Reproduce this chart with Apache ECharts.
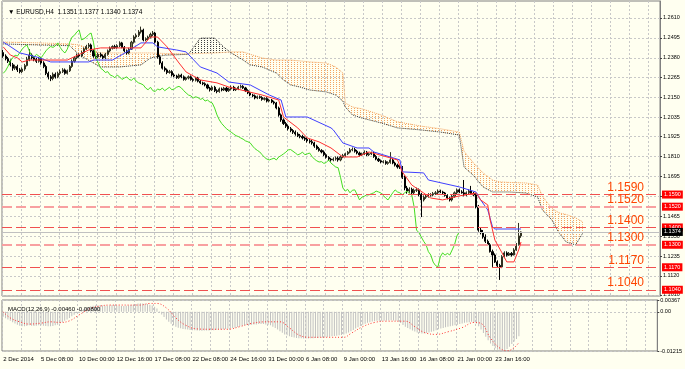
<!DOCTYPE html>
<html><head><meta charset="utf-8">
<script src="https://cdn.jsdelivr.net/npm/echarts@6/dist/echarts.min.js"></script>
<style>html,body{margin:0;padding:0;background:#fffff0}#c{width:685px;height:369px}</style>
</head><body><div id="c"></div>
<script>
// ---------- text ----------
const chartTitle = '\u25BC EURUSD,H4  1.1351 1.1377 1.1340 1.1374';
const macdTitle = 'MACD(12,26,9) -0.00460 -0.00800';
const timeLabels = ['2 Dec 2014','5 Dec 08:00','10 Dec 00:00','12 Dec 16:00','17 Dec 08:00','22 Dec 08:00','24 Dec 16:00','31 Dec 00:00','6 Jan 08:00','9 Jan 00:00','13 Jan 16:00','16 Jan 08:00','21 Jan 00:00','23 Jan 16:00'];
const priceTicks = [1.2610,1.2495,1.2380,1.2265,1.2150,1.2035,1.1925,1.1810,1.1695,1.1580,1.1465,1.1350,1.1235,1.1120,1.1010];
const priceLabelTicks = [1.2610,1.2495,1.2380,1.2265,1.2150,1.2035,1.1925,1.1810,1.1695,1.1465,1.1350,1.1235,1.1120,1.1010];
const levels = [1.1590,1.1520,1.1400,1.1300,1.1170,1.1040];
const lastPrice = 1.1374;
const macdTicks = [0.00367, 0, -0.01215];
const macdTickLabels = ['0.00367','0.00','-0.01215'];

// ---------- candles (H4) ----------
const opens = [
1.2410,1.2390,1.2375,1.2360,1.2340,1.2320,1.2330,1.2310,1.2300,1.2315,1.2335,1.2370,
1.2395,1.2380,1.2370,1.2360,1.2375,1.2350,1.2330,1.2290,1.2270,1.2260,1.2285,1.2270,
1.2290,1.2300,1.2310,1.2290,1.2305,1.2330,1.2360,1.2380,1.2395,1.2390,1.2410,1.2430,
1.2445,1.2454,1.2420,1.2390,1.2385,1.2400,1.2390,1.2380,1.2400,1.2420,1.2435,1.2445,
1.2440,1.2450,1.2466,1.2440,1.2420,1.2408,1.2430,1.2470,1.2500,1.2510,1.2529,1.2540,
1.2483,1.2490,1.2500,1.2515,1.2523,1.2470,1.2385,1.2350,1.2320,1.2310,1.2295,1.2300,
1.2281,1.2275,1.2265,1.2280,1.2270,1.2255,1.2263,1.2270,1.2255,1.2250,1.2263,1.2245,
1.2235,1.2230,1.2223,1.2205,1.2195,1.2210,1.2190,1.2185,1.2200,1.2194,1.2205,1.2190,
1.2200,1.2210,1.2195,1.2200,1.2210,1.2215,1.2206,1.2190,1.2177,1.2165,1.2160,1.2148,
1.2155,1.2150,1.2140,1.2145,1.2130,1.2136,1.2125,1.2119,1.2090,1.2050,1.2021,1.2000,
1.1985,1.1970,1.1960,1.1950,1.1940,1.1930,1.1925,1.1917,1.1910,1.1900,1.1895,1.1888,
1.1870,1.1855,1.1845,1.1836,1.1820,1.1805,1.1795,1.1790,1.1795,1.1800,1.1790,1.1807,
1.1815,1.1825,1.1835,1.1848,1.1850,1.1840,1.1830,1.1819,1.1825,1.1835,1.1820,1.1825,
1.1830,1.1810,1.1795,1.1785,1.1778,1.1780,1.1770,1.1775,1.1790,1.1772,1.1760,1.1749,
1.1745,1.1690,1.1628,1.1610,1.1620,1.1600,1.1615,1.1617,1.1590,1.1559,1.1575,1.1580,
1.1588,1.1588,1.1595,1.1600,1.1610,1.1605,1.1599,1.1585,1.1570,1.1559,1.1580,1.1600,
1.1617,1.1605,1.1600,1.1588,1.1600,1.1610,1.1595,1.1588,1.1518,1.1385,1.1370,1.1345,
1.1320,1.1300,1.1260,1.1241,1.1200,1.1180,1.1172,1.1230,1.1253,1.1240,1.1250,1.1241,1.1270,1.1300,1.1351];
const closes = [
1.2390,1.2375,1.2360,1.2340,1.2320,1.2330,1.2310,1.2300,1.2315,1.2335,1.2370,1.2395,
1.2380,1.2370,1.2360,1.2375,1.2350,1.2330,1.2290,1.2270,1.2260,1.2285,1.2270,1.2290,
1.2300,1.2310,1.2290,1.2305,1.2330,1.2360,1.2380,1.2395,1.2390,1.2410,1.2430,1.2445,
1.2454,1.2420,1.2390,1.2385,1.2400,1.2390,1.2380,1.2400,1.2420,1.2435,1.2445,1.2440,
1.2450,1.2466,1.2440,1.2420,1.2408,1.2430,1.2470,1.2500,1.2510,1.2529,1.2540,1.2483,
1.2490,1.2500,1.2515,1.2523,1.2470,1.2385,1.2350,1.2320,1.2310,1.2295,1.2300,1.2281,
1.2275,1.2265,1.2280,1.2270,1.2255,1.2263,1.2270,1.2255,1.2250,1.2263,1.2245,1.2235,
1.2230,1.2223,1.2205,1.2195,1.2210,1.2190,1.2185,1.2200,1.2194,1.2205,1.2190,1.2200,
1.2210,1.2195,1.2200,1.2210,1.2215,1.2206,1.2190,1.2177,1.2165,1.2160,1.2148,1.2155,
1.2150,1.2140,1.2145,1.2130,1.2136,1.2125,1.2119,1.2090,1.2050,1.2021,1.2000,1.1985,
1.1970,1.1960,1.1950,1.1940,1.1930,1.1925,1.1917,1.1910,1.1900,1.1895,1.1888,1.1870,
1.1855,1.1845,1.1836,1.1820,1.1805,1.1795,1.1790,1.1795,1.1800,1.1790,1.1807,1.1815,
1.1825,1.1835,1.1848,1.1850,1.1840,1.1830,1.1819,1.1825,1.1835,1.1820,1.1825,1.1830,
1.1810,1.1795,1.1785,1.1778,1.1780,1.1770,1.1775,1.1790,1.1772,1.1760,1.1749,1.1745,
1.1690,1.1628,1.1610,1.1620,1.1600,1.1615,1.1617,1.1590,1.1559,1.1575,1.1580,1.1588,
1.1588,1.1595,1.1600,1.1610,1.1605,1.1599,1.1585,1.1570,1.1559,1.1580,1.1600,1.1617,
1.1605,1.1600,1.1588,1.1600,1.1610,1.1595,1.1588,1.1518,1.1385,1.1370,1.1345,1.1320,
1.1300,1.1260,1.1241,1.1200,1.1180,1.1172,1.1230,1.1253,1.1240,1.1250,1.1241,1.1270,1.1300,1.1351,1.1374];
const highs = [
1.2425,1.2400,1.2385,1.2370,1.2350,1.2340,1.2340,1.2320,1.2325,1.2345,1.2385,1.2430,
1.2405,1.2390,1.2380,1.2385,1.2385,1.2360,1.2340,1.2300,1.2280,1.2295,1.2295,1.2300,
1.2312,1.2320,1.2318,1.2312,1.2338,1.2370,1.2390,1.2405,1.2405,1.2420,1.2440,1.2455,
1.2465,1.2462,1.2428,1.2400,1.2410,1.2410,1.2398,1.2408,1.2428,1.2445,1.2452,1.2455,
1.2458,1.2475,1.2472,1.2448,1.2428,1.2438,1.2478,1.2510,1.2520,1.2540,1.2560,1.2548,
1.2498,1.2508,1.2525,1.2535,1.2530,1.2478,1.2395,1.2360,1.2330,1.2318,1.2310,1.2308,
1.2290,1.2282,1.2288,1.2288,1.2278,1.2270,1.2278,1.2278,1.2262,1.2270,1.2270,1.2252,
1.2242,1.2238,1.2230,1.2212,1.2218,1.2218,1.2198,1.2208,1.2208,1.2212,1.2212,1.2208,
1.2220,1.2218,1.2208,1.2218,1.2225,1.2222,1.2212,1.2198,1.2185,1.2172,1.2168,1.2162,
1.2162,1.2158,1.2152,1.2152,1.2142,1.2142,1.2132,1.2125,1.2098,1.2058,1.2030,1.2010,
1.1995,1.1980,1.1968,1.1960,1.1950,1.1940,1.1935,1.1925,1.1920,1.1910,1.1905,1.1895,
1.1878,1.1865,1.1852,1.1845,1.1828,1.1812,1.1802,1.1805,1.1810,1.1810,1.1815,1.1825,
1.1832,1.1842,1.1858,1.1862,1.1860,1.1848,1.1838,1.1832,1.1845,1.1842,1.1832,1.1838,
1.1838,1.1818,1.1802,1.1792,1.1788,1.1788,1.1782,1.1835,1.1800,1.1780,1.1768,1.1758,
1.1755,1.1700,1.1640,1.1632,1.1630,1.1625,1.1630,1.1625,1.1600,1.1585,1.1590,1.1598,
1.1598,1.1605,1.1610,1.1620,1.1618,1.1612,1.1605,1.1592,1.1578,1.1588,1.1608,1.1625,
1.1625,1.1615,1.1674,1.1608,1.1620,1.1640,1.1605,1.1598,1.1530,1.1400,1.1385,1.1360,
1.1330,1.1310,1.1272,1.1250,1.1210,1.1190,1.1240,1.1262,1.1262,1.1258,1.1258,1.1280,1.1310,1.1426,1.1377];
const lows = [
1.2380,1.2365,1.2350,1.2330,1.2305,1.2310,1.2298,1.2290,1.2292,1.2305,1.2330,1.2360,
1.2370,1.2360,1.2350,1.2352,1.2340,1.2320,1.2280,1.2255,1.2245,1.2250,1.2260,1.2262,
1.2280,1.2292,1.2282,1.2283,1.2298,1.2322,1.2352,1.2372,1.2382,1.2383,1.2402,1.2425,
1.2435,1.2412,1.2380,1.2375,1.2378,1.2382,1.2372,1.2372,1.2392,1.2412,1.2428,1.2432,
1.2432,1.2442,1.2435,1.2412,1.2398,1.2400,1.2425,1.2462,1.2490,1.2500,1.2520,1.2475,
1.2475,1.2482,1.2492,1.2505,1.2462,1.2375,1.2340,1.2312,1.2300,1.2285,1.2288,1.2272,
1.2268,1.2258,1.2258,1.2262,1.2248,1.2248,1.2255,1.2248,1.2242,1.2243,1.2238,1.2228,
1.2222,1.2215,1.2198,1.2185,1.2188,1.2182,1.2175,1.2178,1.2186,1.2188,1.2182,1.2183,
1.2192,1.2188,1.2188,1.2193,1.2203,1.2200,1.2182,1.2170,1.2158,1.2152,1.2140,1.2141,
1.2143,1.2132,1.2133,1.2122,1.2123,1.2118,1.2110,1.2082,1.2040,1.2010,1.1992,1.1975,
1.1960,1.1950,1.1940,1.1930,1.1922,1.1915,1.1908,1.1900,1.1890,1.1885,1.1878,1.1860,
1.1848,1.1838,1.1828,1.1812,1.1798,1.1785,1.1780,1.1782,1.1786,1.1780,1.1782,1.1800,
1.1808,1.1818,1.1828,1.1840,1.1832,1.1822,1.1810,1.1812,1.1818,1.1812,1.1812,1.1818,
1.1802,1.1788,1.1778,1.1770,1.1770,1.1762,1.1762,1.1768,1.1765,1.1752,1.1740,1.1738,
1.1680,1.1615,1.1595,1.1600,1.1590,1.1590,1.1605,1.1580,1.1460,1.1550,1.1565,1.1572,
1.1578,1.1580,1.1588,1.1592,1.1598,1.1592,1.1578,1.1562,1.1550,1.1550,1.1572,1.1592,
1.1598,1.1595,1.1580,1.1580,1.1592,1.1588,1.1580,1.1510,1.1375,1.1360,1.1335,1.1310,
1.1310,1.1255,1.1172,1.1195,1.1170,1.1097,1.1165,1.1222,1.1232,1.1235,1.1232,1.1238,1.1265,1.1295,1.1340];

// ---------- Ichimoku (read as [barIndex, price]) ----------
const tenkan = [[0,1.2443],[3,1.2396],[6,1.2379],[8,1.2356],[11,1.2367],[27,1.2367],[36,1.2425],[41,1.2437],[58,1.2437],[62,1.2500],[65,1.2500],[69,1.2443],[74,1.2350],[77,1.2298],[83,1.2252],[90,1.2235],[95,1.2211],[109,1.2165],[116,1.2136],[118,1.2038],[124,1.1975],[128,1.1917],[133,1.1894],[138,1.1859],[143,1.1807],[149,1.1807],[154,1.1836],[166,1.1790],[168,1.1721],[172,1.1645],[177,1.1599],[180,1.1570],[185,1.1559],[192,1.1582],[199,1.1599],[201,1.1559],[204,1.1530],[205,1.1443],[207,1.1327],[210,1.1253],[212,1.1201],[215,1.1201],[217,1.1270],[218,1.1316]];
const kijun = [[0,1.2471],[2,1.2454],[7,1.2408],[14,1.2385],[20,1.2356],[36,1.2356],[38,1.2367],[46,1.2367],[52,1.2414],[58,1.2466],[63,1.2466],[65,1.2443],[73,1.2425],[77,1.2414],[83,1.2327],[90,1.2292],[95,1.2240],[104,1.2223],[112,1.2165],[117,1.2136],[119,1.2038],[128,1.2038],[138,1.1975],[139,1.1963],[143,1.1888],[149,1.1859],[154,1.1859],[156,1.1836],[167,1.1790],[168,1.1721],[177,1.1715],[179,1.1674],[192,1.1634],[199,1.1605],[201,1.1559],[204,1.1501],[206,1.1403],[207,1.1391],[218,1.1391]];
const kumoIdx = [0,15,28,32,41,49,58,62,68,78,83,89,93,96,101,104,109,115,118,121,125,129,136,140,143,144,147,151,159,166,176,184,192,194,198,202,206,209,213,220,225,227,231,234,237,241,244];
const spanA = [1.2471,1.2466,1.2460,1.2454,1.2408,1.2408,1.2408,1.2408,1.2405,1.2403,1.2405,1.2408,1.2411,1.2414,1.2414,1.2400,1.2379,1.2367,1.2367,1.2367,1.2362,1.2356,1.2350,1.2327,1.2292,1.2119,1.2096,1.2085,1.2050,1.2010,1.1985,1.1970,1.1951,1.1840,1.1772,1.1715,1.1674,1.1663,1.1660,1.1657,1.1645,1.1580,1.1510,1.1484,1.1475,1.1455,1.1432];
const spanB = [1.2460,1.2454,1.2450,1.2396,1.2327,1.2327,1.2339,1.2379,1.2395,1.2400,1.2494,1.2494,1.2440,1.2408,1.2367,1.2339,1.2327,1.2292,1.2252,1.2223,1.2211,1.2194,1.2183,1.2165,1.2130,1.2096,1.2050,1.2032,1.2004,1.1975,1.1963,1.1951,1.1934,1.1749,1.1700,1.1634,1.1605,1.1605,1.1605,1.1599,1.1576,1.1501,1.1443,1.1368,1.1316,1.1299,1.1368];

// ---------- MACD ----------
const macdHist = [
-0.0015,-0.0020,-0.0024,-0.0028,-0.0032,-0.0036,-0.0040,-0.0043,
-0.0045,-0.0045,-0.0044,-0.0042,-0.0043,-0.0044,-0.0043,
-0.0042,-0.0042,-0.0043,-0.0044,-0.0045,-0.0045,-0.0044,-0.0042,-0.0040,-0.0036,
-0.0032,-0.0028,-0.0024,-0.0019,-0.0014,-0.0009,-0.0004,0.0001,
0.0005,0.0009,0.0012,0.0015,0.0017,0.0019,0.0020,0.0020,0.0021,0.0020,0.0019,0.0019,0.0020,0.0021,0.0021,0.0020,0.0019,0.0018,0.0018,0.0019,0.0020,0.0021,0.0022,0.0024,0.0026,0.0027,0.0026,0.0025,
0.0024,0.0022,0.0020,0.0016,0.0010,0.0002,
-0.0008,-0.0016,-0.0024,-0.0031,-0.0037,-0.0042,-0.0046,-0.0049,-0.0051,
-0.0053,-0.0054,-0.0055,-0.0056,-0.0057,-0.0057,-0.0058,-0.0058,-0.0059,-0.0058,-0.0058,-0.0058,-0.0057,-0.0057,-0.0056,-0.0055,-0.0055,-0.0054,-0.0053,-0.0052,
-0.0051,-0.0050,-0.0049,-0.0047,-0.0045,-0.0043,-0.0042,-0.0041,-0.0040,-0.0040,-0.0039,-0.0039,-0.0038,-0.0038,-0.0038,-0.0039,-0.0040,-0.0042,-0.0046,-0.0050,
-0.0055,-0.0060,-0.0065,-0.0070,-0.0073,-0.0076,-0.0078,-0.0080,-0.0081,-0.0082,
-0.0082,-0.0083,-0.0083,-0.0083,-0.0082,-0.0082,-0.0081,-0.0081,-0.0080,-0.0080,-0.0079,-0.0078,-0.0077,-0.0076,-0.0075,-0.0074,-0.0073,-0.0072,
-0.0070,-0.0067,-0.0064,-0.0060,-0.0056,-0.0052,-0.0048,-0.0044,-0.0040,-0.0037,-0.0034,-0.0032,-0.0030,-0.0029,-0.0028,-0.0028,-0.0028,
-0.0028,-0.0027,-0.0027,-0.0026,-0.0027,-0.0028,-0.0030,-0.0035,-0.0041,-0.0046,-0.0050,-0.0054,
-0.0058,-0.0061,-0.0064,-0.0066,-0.0067,-0.0067,-0.0066,-0.0064,-0.0062,-0.0060,-0.0057,-0.0054,-0.0052,-0.0050,
-0.0048,-0.0046,-0.0045,-0.0043,-0.0042,-0.0040,-0.0038,-0.0036,-0.0034,-0.0033,-0.0032,-0.0031,-0.0032,-0.0036,
-0.0045,-0.0055,-0.0066,-0.0077,-0.0088,-0.0098,-0.0106,-0.0113,-0.0118,-0.0121,-0.0121,-0.0119,-0.0115,-0.0108,-0.0100,-0.0092,-0.0084,-0.0076];
const macdSignal = [[0,0.0000],[3,-0.0019],[7,-0.0031],[11,-0.0038],[16,-0.0035],[20,-0.0031],[24,-0.0033],[28,-0.0028],[32,-0.0010],[37,0.0011],[41,0.0018],[45,0.0021],[58,0.0021],[62,0.0026],[65,0.0026],[69,0.0012],[73,-0.0019],[77,-0.0041],[82,-0.0053],[87,-0.0054],[95,-0.0054],[100,-0.0046],[105,-0.0036],[111,-0.0031],[117,-0.0031],[121,-0.0050],[125,-0.0072],[129,-0.0079],[144,-0.0079],[147,-0.0067],[152,-0.0046],[157,-0.0033],[162,-0.0029],[170,-0.0029],[174,-0.0046],[178,-0.0064],[183,-0.0070],[188,-0.0062],[194,-0.0049],[199,-0.0033],[202,-0.0036],[206,-0.0082],[210,-0.0113],[213,-0.0121],[216,-0.0111],[218,-0.0095]];

// ---------- layout ----------
const N_CAT = 277, LABEL_STEP = 16, GRID_STEP = 8, CHIKOU_SHIFT = 26;
const PRICE_MIN = 1.1004, PRICE_MAX = 1.2708;
const FONT = 'Liberation Sans, Arial, sans-serif';

const cats = Array.from({length: N_CAT}, (_, i) => String(i));
const candleData = opens.map((o, i) => [o, closes[i], lows[i], highs[i]]);
const chikou = closes.slice(CHIKOU_SHIFT).map((c, k) => [k, c]);
const kumoSegs = [];
for (let k = 0; k < kumoIdx.length - 1; k++) kumoSegs.push([kumoIdx[k], spanA[k], spanB[k], kumoIdx[k+1], spanA[k+1], spanB[k+1]]);
const spanALine = kumoIdx.map((i, k) => [i, spanA[k]]);
const spanBLine = kumoIdx.map((i, k) => [i, spanB[k]]);

function dotPattern(color) {
  const c = document.createElement('canvas'); c.width = 3; c.height = 2;
  const g = c.getContext('2d'); g.fillStyle = color; g.fillRect(0, 0, 1, 1);
  return {image: c, repeat: 'repeat'};
}
const orangeHatch = dotPattern('#f4a460');
const darkHatch = dotPattern('#404040');

const thinLevels = [1.1590, 1.1400, 1.1170, 1.1040];
const bigMarks = levels.map(v => {
  const thin = thinLevels.indexOf(v) >= 0;
  return {yAxis: v, lineStyle: {color: thin ? '#f05050' : '#f8a0a0', width: thin ? 1 : 2, type: [10, 4], opacity: 1},
    label: {show: true, position: 'insideEndTop', formatter: v.toFixed(4), color: '#ff4500', fontSize: 12, fontFamily: FONT, distance: 1, padding: [0, 15, 0, 0]}};
});
const boxMarks = levels.map(v => ({yAxis: v, lineStyle: {color: 'rgba(0,0,0,0)', width: 0},
    label: {show: true, position: 'end', formatter: v.toFixed(4), color: '#fff', backgroundColor: '#ff0000', fontSize: 5.5, fontFamily: FONT, padding: [1, 2, 1, 2], distance: 2}}));
const lastMark = [{yAxis: lastPrice, lineStyle: {color: '#c0c0c0', width: 1, type: 'solid'},
  label: {show: true, position: 'end', formatter: lastPrice.toFixed(4), color: '#fff', backgroundColor: '#000', fontSize: 5.5, fontFamily: FONT, padding: [1, 2, 1, 2], distance: 2}}];

const gridLine = {show: true, lineStyle: {color: '#c8c8c8', type: [2, 2], width: 1}};
const chart = echarts.init(document.getElementById('c'), null, {renderer: 'canvas'});
chart.setOption({
  animation: false,
  backgroundColor: '#fffff0',
  title: [
    {text: chartTitle, left: 3, top: 4, textStyle: {fontSize: 6.5, fontWeight: 'normal', color: '#000', fontFamily: FONT}},
    {text: macdTitle, left: 3, top: 301, textStyle: {fontSize: 6, fontWeight: 'normal', color: '#000', fontFamily: FONT}}
  ],
  grid: [
    {left: 2, right: 25, top: 1, height: 295, show: true, borderColor: '#808080', borderWidth: 1},
    {left: 2, right: 25, top: 300, height: 51, show: true, borderColor: '#808080', borderWidth: 1}
  ],
  xAxis: [
    {gridIndex: 0, type: 'category', data: cats, boundaryGap: true, axisLine: {show: false}, axisTick: {show: false}, axisLabel: {show: false},
     splitLine: Object.assign({interval: GRID_STEP - 1}, gridLine)},
    {gridIndex: 1, type: 'category', data: cats, boundaryGap: true, axisLine: {show: false}, axisTick: {show: false},
     axisLabel: {show: true, interval: LABEL_STEP - 1, align: 'left', fontSize: 6, color: '#000', fontFamily: FONT, margin: 5,
       formatter: (v, idx) => { const k = Number(v) / LABEL_STEP; return (Number.isInteger(k) && k < timeLabels.length) ? timeLabels[k] : ''; }},
     splitLine: Object.assign({interval: GRID_STEP - 1}, gridLine)}
  ],
  yAxis: [
    {gridIndex: 0, type: 'value', position: 'right', min: PRICE_MIN, max: PRICE_MAX,
     axisLine: {show: true, lineStyle: {color: '#808080'}},
     axisTick: {show: true, length: 2, customValues: priceTicks, lineStyle: {color: '#404040'}},
     axisLabel: {show: true, customValues: priceLabelTicks, formatter: v => v.toFixed(4), fontSize: 5.5, color: '#000', fontFamily: FONT, margin: 3},
     splitLine: gridLine},
    {gridIndex: 1, type: 'value', position: 'right', min: macdTicks[2], max: macdTicks[0],
     axisLine: {show: true, lineStyle: {color: '#808080'}},
     axisTick: {show: true, length: 2, customValues: macdTicks, lineStyle: {color: '#404040'}},
     axisLabel: {show: true, customValues: macdTicks, formatter: v => macdTickLabels[macdTicks.indexOf(v)] || '', fontSize: 5.5, color: '#000', fontFamily: FONT, margin: 3},
     splitLine: gridLine}
  ],
  series: [
    {type: 'custom', xAxisIndex: 0, yAxisIndex: 0, z: 1, silent: true, clip: true,
     data: kumoSegs, encode: {x: [0, 3], y: [1, 2, 4, 5]},
     renderItem: (params, api) => {
       const i0 = api.value(0), a0 = api.value(1), b0 = api.value(2), i1 = api.value(3), a1 = api.value(4), b1 = api.value(5);
       const up = (a0 + a1) >= (b0 + b1);
       return {type: 'polygon', shape: {points: [api.coord([i0, a0]), api.coord([i1, a1]), api.coord([i1, b1]), api.coord([i0, b0])]},
               style: {fill: up ? orangeHatch : darkHatch}};
     }},
    {type: 'line', name: 'spanA', data: spanALine, xAxisIndex: 0, yAxisIndex: 0, symbol: 'none', z: 2,
     lineStyle: {color: '#f4a460', width: 1, type: 'dotted'},
     markLine: {silent: true, precision: 4, symbol: ['none', 'none'], animation: false, data: boxMarks}},
    {type: 'line', name: 'spanB', data: spanBLine, xAxisIndex: 0, yAxisIndex: 0, symbol: 'none', z: 2,
     lineStyle: {color: '#303030', width: 1, type: 'dotted'},
     markLine: {silent: true, precision: 4, symbol: ['none', 'none'], animation: false, data: lastMark}},
    {type: 'candlestick', data: candleData, xAxisIndex: 0, yAxisIndex: 0, z: 3, barWidth: 1.6,
     itemStyle: {color: '#7a7a5a', color0: '#000000', borderColor: '#303020', borderColor0: '#000000', borderWidth: 1}},
    {type: 'line', name: 'chikou', data: chikou, xAxisIndex: 0, yAxisIndex: 0, symbol: 'none', z: 4,
     lineStyle: {color: '#44dd22', width: 1}},
    {type: 'line', name: 'kijun', data: kijun, xAxisIndex: 0, yAxisIndex: 0, symbol: 'none', z: 4,
     lineStyle: {color: '#4040ff', width: 1}},
    {type: 'line', name: 'tenkan', data: tenkan, xAxisIndex: 0, yAxisIndex: 0, symbol: 'none', z: 5,
     lineStyle: {color: '#ff3030', width: 1},
     markLine: {silent: true, precision: 4, symbol: ['none', 'none'], animation: false, data: bigMarks}},
    {type: 'bar', data: macdHist, xAxisIndex: 1, yAxisIndex: 1, barWidth: 1, itemStyle: {color: '#c0c0c0'}, z: 2},
    {type: 'line', data: macdSignal, xAxisIndex: 1, yAxisIndex: 1, symbol: 'none', smooth: 0.4, z: 3,
     lineStyle: {color: '#ff3030', width: 1, type: [1, 2]}}
  ]
});
</script></body></html>
